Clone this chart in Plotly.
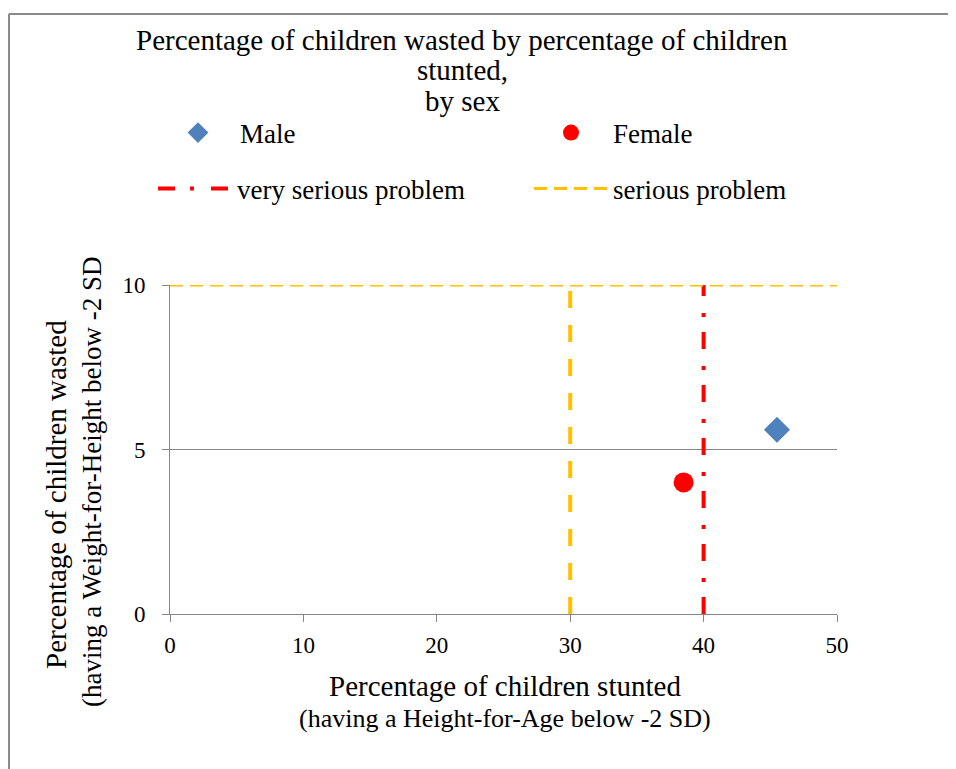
import plotly.graph_objects as go

# ---- data ----
sexes = ["Male", "Female"]
stunted = [45.5, 38.5]      # % children stunted (x)
wasted = [5.6, 4.0]         # % children wasted (y)
serious_stunting = 30       # serious problem threshold (x)
very_serious_stunting = 40  # very serious problem threshold (x)
serious_wasting = 10        # serious problem threshold (y)
x_ticks = [0, 10, 20, 30, 40, 50]
y_ticks = [0, 5, 10]

W, H = 956, 769
OFF = 8  # page body margin
FONT = "Liberation Serif, Times New Roman, serif"
GRAY = "#868686"
YELLOW = "#FFC000"

def px(x):
    return (x - OFF) / W

def py(y):
    return 1 - (y - OFF) / H

fig = go.Figure()

fig.add_trace(go.Scatter(
    x=[stunted[0]], y=[wasted[0]], mode="markers", name=sexes[0],
    marker=dict(symbol="diamond", size=20, color="#4F81BD"),
    legend="legend",
))
fig.add_trace(go.Scatter(
    x=[stunted[1]], y=[wasted[1]], mode="markers", name=sexes[1],
    marker=dict(symbol="circle", size=20, color="#FF0000"),
    legend="legend",
))
fig.add_trace(go.Scatter(
    x=[very_serious_stunting, very_serious_stunting], y=[0, serious_wasting],
    mode="lines", name="very serious problem",
    line=dict(color="#FF0000", width=4, dash="17px,15px,4px,17px"),
    legend="legend2",
))
fig.add_trace(go.Scatter(
    x=[x_ticks[0], x_ticks[-1]], y=[serious_wasting, serious_wasting],
    mode="lines", name="serious problem", legendgroup="serious",
    line=dict(color=YELLOW, width=3, dash="13px,7px"),
    legend="legend2",
))
fig.add_trace(go.Scatter(
    x=[serious_stunting, serious_stunting], y=[0, serious_wasting],
    mode="lines", name="serious problem", legendgroup="serious", showlegend=False,
    line=dict(color=YELLOW, width=4, dash="17px,17px"),
    legend="legend2",
))

def ann(text, x, y, size=29, angle=0):
    return dict(text=text, xref="paper", yref="paper", x=px(x), y=py(y),
                xanchor="center", yanchor="middle", textangle=angle,
                showarrow=False, font=dict(size=size))

ITEMW = 74

fig.update_layout(
    width=W, height=H,
    margin=dict(l=0, r=0, t=0, b=0),
    paper_bgcolor="white", plot_bgcolor="white",
    font=dict(family=FONT, size=22, color="black"),
    xaxis=dict(
        domain=[px(170), px(837)], range=[0, 50], tickvals=x_ticks,
        showgrid=False, zeroline=False, showline=True, linecolor=GRAY, linewidth=1,
        ticks="outside", ticklen=7, tickcolor=GRAY, tickfont=dict(size=23),
        ticklabelstandoff=3, automargin=False,
    ),
    yaxis=dict(
        domain=[py(614), py(285)], range=[0, 10], tickvals=y_ticks,
        showgrid=True, gridcolor=GRAY, gridwidth=1, zeroline=False,
        showline=True, linecolor=GRAY, linewidth=1,
        ticks="outside", ticklen=7, tickcolor=GRAY, tickfont=dict(size=23),
        ticklabelstandoff=12, automargin=False,
    ),
    legend=dict(
        orientation="h", x=px(156), y=py(133), xanchor="left", yanchor="middle",
        entrywidth=373 - ITEMW - 15, entrywidthmode="pixels", itemwidth=ITEMW,
        font=dict(size=27), bgcolor="rgba(0,0,0,0)",
    ),
    legend2=dict(
        orientation="h", x=px(153), y=py(189), xanchor="left", yanchor="middle",
        entrywidth=376 - ITEMW - 15, entrywidthmode="pixels", itemwidth=ITEMW,
        font=dict(size=27), bgcolor="rgba(0,0,0,0)",
    ),
    shapes=[
        dict(type="line", xref="paper", yref="paper", x0=px(9), x1=1.01, y0=py(14), y1=py(14),
             line=dict(color="#8a8a8a", width=2)),
        dict(type="line", xref="paper", yref="paper", x0=px(9), x1=px(9), y0=py(14), y1=-0.02,
             line=dict(color="#8a8a8a", width=2)),
    ],
    annotations=[
        ann("Percentage of children wasted by percentage of children", 462, 40),
        ann("stunted,", 462, 70),
        ann("by sex", 462, 101),
        ann("Percentage of children stunted", 505, 686),
        ann("(having a Height-for-Age below -2 SD)", 505, 718, size=26),
        ann("Percentage of children wasted", 56, 495, angle=-90),
        ann("(having a Weight-for-Height below -2 SD", 92, 482, size=27, angle=-90),
    ],
)

fig.write_html("out.html")
